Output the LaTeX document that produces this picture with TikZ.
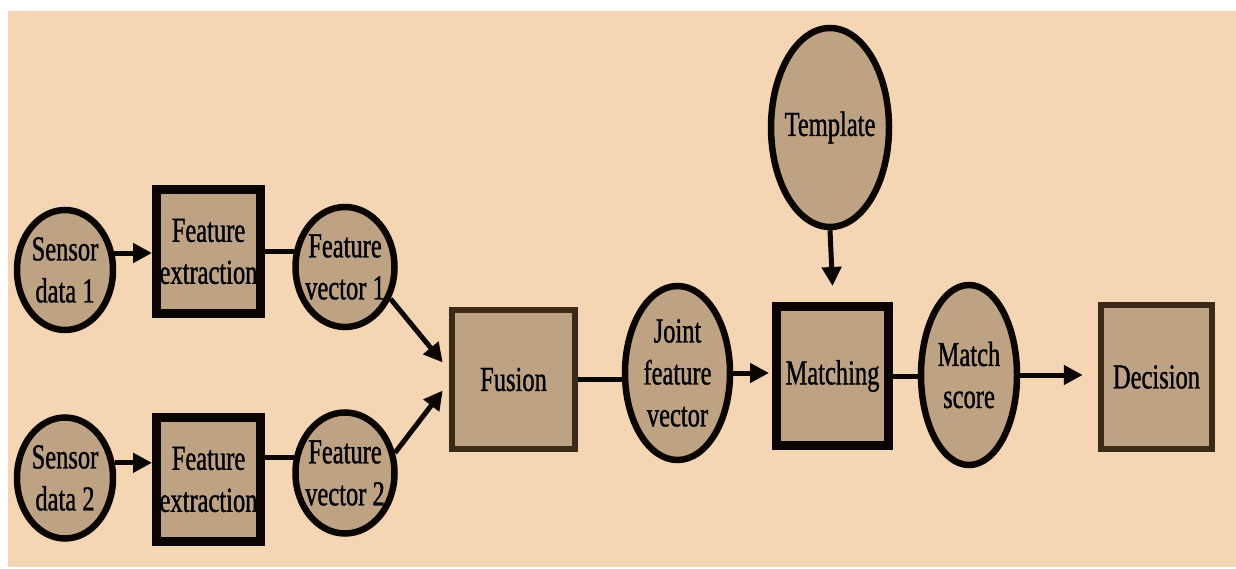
\documentclass[tikz,border=0pt]{standalone}
\usepackage{fontspec}
\setmainfont{Liberation Serif}[FakeStretch=0.7,FakeBold=0.9]
\usetikzlibrary{shapes.geometric,arrows.meta,calc}
\definecolor{bgpeach}{HTML}{F5D6B4}
\definecolor{nodetan}{HTML}{BEA284}
\definecolor{edgeblk}{HTML}{0A0500}
\definecolor{edgebrn}{HTML}{3B2A18}
\tikzset{
  lbl/.style={font=\fontsize{35}{42}\selectfont, align=center, text=black, inner sep=-40pt},
  oval/.style={ellipse, draw=edgeblk, line width=6.5pt, fill=nodetan, lbl},
  boxn/.style={rectangle, draw=edgeblk, line width=9pt, fill=nodetan, lbl},
  boxb/.style={rectangle, draw=edgebrn, line width=6.5pt, fill=nodetan, lbl},
  link/.style={draw=edgeblk, line width=5pt},
  arr/.style={link, -{Triangle[length=19pt,width=19pt]}},
}
\begin{document}
\begin{tikzpicture}[x=1pt,y=-1pt]
\useasboundingbox (0,0) rectangle (1236,569);
\fill[white] (0,0) rectangle (1236,569);
\fill[bgpeach] (8,11) rectangle (1236,567);

% nodes
\node[oval, minimum width=96pt, minimum height=120pt] (sd1) at (65,270) {Sensor\\data 1};
\node[boxn, minimum width=104pt, minimum height=124pt] (fe1) at (208.5,251.5) {Feature\\extraction};
\node[oval, minimum width=99pt, minimum height=120pt] (fv1) at (345,267) {Feature\\vector 1};

\node[oval, minimum width=96pt, minimum height=121pt] (sd2) at (65,478) {Sensor\\data 2};
\node[boxn, minimum width=104pt, minimum height=124pt] (fe2) at (208.5,479.5) {Feature\\extraction};
\node[oval, minimum width=99pt, minimum height=121pt] (fv2) at (345,473) {Feature\\vector 2};

\node[boxb, minimum width=123pt, minimum height=139pt] (fus) at (513.5,379.5) {Fusion};
\node[oval, minimum width=105pt, minimum height=174pt] (jfv) at (677.5,373) {Joint\\feature\\vector};
\node[boxn, minimum width=112pt, minimum height=139pt] (mat) at (832.5,376) {Matching};
\node[oval, minimum width=96pt, minimum height=180pt] (ms) at (969,375) {Match\\score};
\node[boxb, minimum width=111pt, minimum height=144pt] (dec) at (1156.5,377) {Decision};
\node[oval, minimum width=118pt, minimum height=199pt] (tpl) at (830,127.5) {Template};

% free ends near fusion
\coordinate (in1) at ($(fus.west)+(-6,-17)$);
\coordinate (in2) at ($(fus.west)+(-6,11)$);

% connectors
\draw[arr] (sd1.19) -- (sd1.19 -| fe1.west);
\draw[link] (fv1.163) -- (fv1.163 -| fe1.east);
\draw[arr] (sd2.17) -- (sd2.17 -| fe2.west);
\draw[link] (fv2.163) -- (fv2.163 -| fe2.east);
\draw[arr] (fv1.-35) -- (in1);
\draw[arr] (fv2.22) -- (in2);
\draw[link] (fus.east) -- (fus.east -| jfv.west);
\draw[arr] (jfv.east) -- ($(jfv.east -| mat.west)+(-3,0)$);
\draw[link] (mat.east) -- (mat.east -| ms.west);
\draw[arr] (ms.east) -- ($(ms.east -| dec.west)+(-15,0)$);
\draw[arr] (tpl.south) -- ($(mat.north)+(0,-16)$);
\end{tikzpicture}
\end{document}
